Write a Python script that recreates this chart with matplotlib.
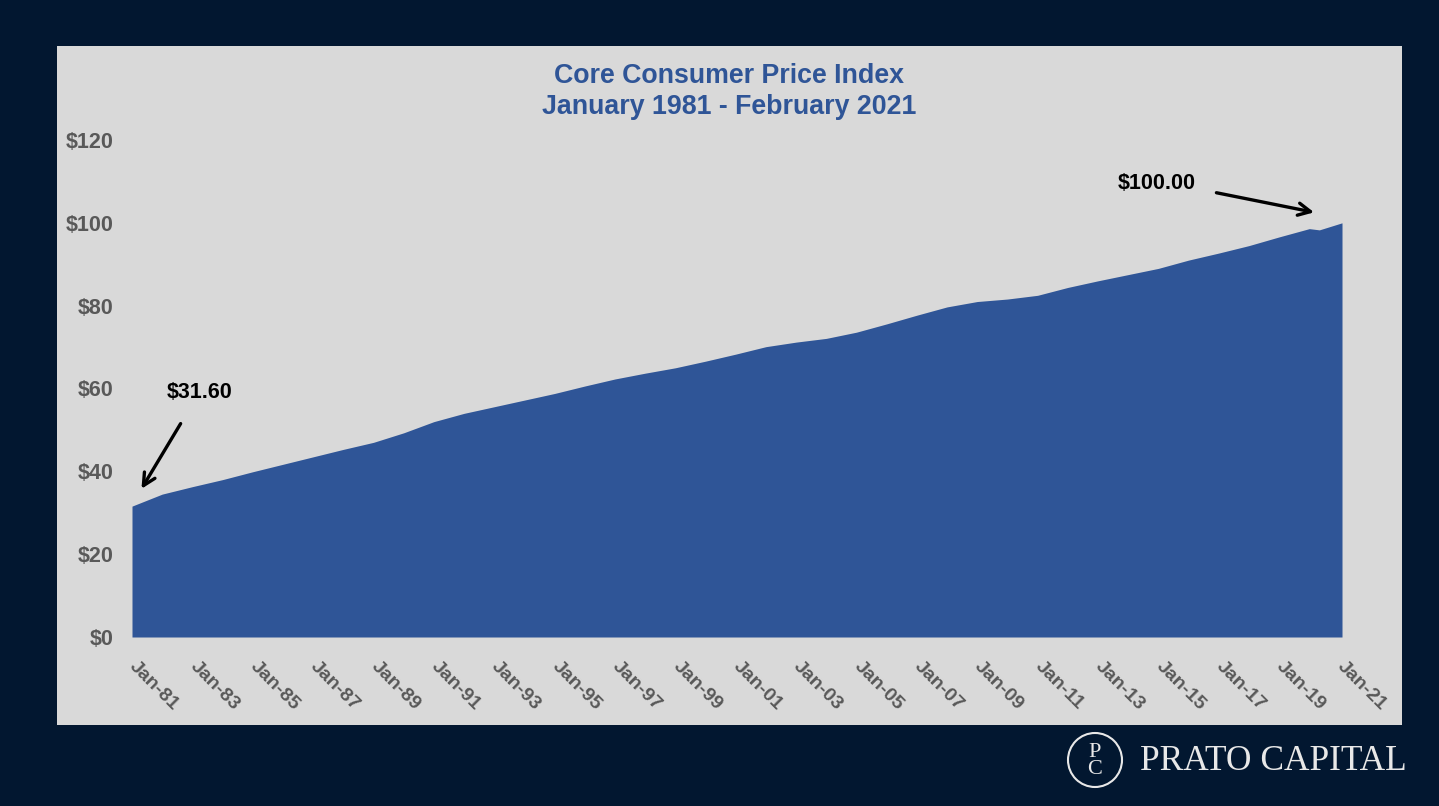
import matplotlib
matplotlib.use("Agg")
import matplotlib.pyplot as plt
import numpy as np
import pandas as pd
from matplotlib.patches import Rectangle, Ellipse

# values (index, Feb 2021 = 100)
dates = ['1981-01', '1982-01', '1983-01', '1984-01', '1985-01', '1986-01', '1987-01',
         '1988-01', '1989-01', '1990-01', '1991-01', '1992-01', '1993-01', '1994-01',
         '1995-01', '1996-01', '1997-01', '1998-01', '1999-01', '2000-01', '2001-01',
         '2002-01', '2003-01', '2004-01', '2005-01', '2006-01', '2007-01', '2008-01',
         '2009-01', '2010-01', '2011-01', '2012-01', '2013-01', '2014-01', '2015-01',
         '2016-01', '2017-01', '2018-01', '2019-01', '2020-01', '2020-05', '2021-02']
cpi = [31.6, 34.5, 36.3, 38.0, 39.9, 41.7, 43.5,
       45.3, 47.0, 49.3, 52.0, 54.0, 55.6, 57.2,
       58.8, 60.6, 62.3, 63.7, 65.0, 66.6, 68.3,
       70.1, 71.2, 72.1, 73.6, 75.6, 77.7, 79.7,
       81.0, 81.6, 82.5, 84.4, 86.0, 87.5, 89.0,
       91.0, 92.7, 94.5, 96.6, 98.6, 98.3, 100.0]
yticks = [0, 20, 40, 60, 80, 100, 120]
tick_labels = ['Jan-%02d' % (y % 100) for y in range(1981, 2022, 2)]

NAVY = '#021730'
PANEL = '#D9D9D9'
BLUE = '#2F5597'
GREY = '#595959'
LOGO = '#e8e8e8'

plt.rcParams['font.family'] = ['Liberation Sans', 'DejaVu Sans']

per = pd.PeriodIndex(dates, freq='M')
start = pd.Period('1981-01', freq='M')
x = np.array([(p - start).n for p in per])

W, H = 1439, 806
fig = plt.figure(figsize=(W / 100, H / 100), dpi=100, facecolor=NAVY)
fig.patches.append(Rectangle((57 / W, 81 / H), 1345 / W, 679 / H,
                             transform=fig.transFigure, facecolor=PANEL,
                             edgecolor='none', zorder=-5))

ax = fig.add_axes([132 / W, 169 / H, 1210 / W, 497 / H])
ax.set_facecolor('none')
ax.fill_between(x, 0, cpi, color=BLUE, linewidth=0)
ax.set_xlim(0, x[-1])
ax.set_ylim(0, 120)
for s in ax.spines.values():
    s.set_visible(False)

ax.set_yticks(yticks)
ax.set_yticklabels(['$%d' % v for v in yticks], fontsize=15.5, fontweight='bold', color=GREY)
ax.tick_params(axis='y', length=0, pad=13)

ax.set_xticks(np.arange(0, 481, 24))
ax.set_xticklabels(tick_labels, rotation=-45, ha='left', va='center',
                   rotation_mode='anchor', fontsize=14, fontweight='bold', color=GREY)
ax.tick_params(axis='x', length=0, pad=19)

# title
fig.text(729 / W, 1 - 76 / H, 'Core Consumer Price Index', ha='center', va='center',
         fontsize=19.3, fontweight='bold', color=BLUE)
fig.text(729 / W, 1 - 107 / H, 'January 1981 - February 2021', ha='center', va='center',
         fontsize=19.3, fontweight='bold', color=BLUE)

# annotations
ax.text(27, 59.1, '$31.60', ha='center', va='center', fontsize=15.5, fontweight='bold', color='black')
ax.annotate('', xy=(3.2, 35.2), xytext=(19.9, 52.1),
            arrowprops=dict(arrowstyle='->', color='black', lw=2.4, mutation_scale=22))
ax.text(407.5, 109.4, '$100.00', ha='center', va='center', fontsize=15.5, fontweight='bold', color='black')
ax.annotate('', xy=(471, 102.4), xytext=(430, 107.4),
            arrowprops=dict(arrowstyle='->', color='black', lw=2.4, mutation_scale=22))

# logo
r = 27
fig.patches.append(Ellipse((1095 / W, 1 - 760 / H), 2 * r / W, 2 * r / H, transform=fig.transFigure,
                           facecolor='none', edgecolor=LOGO, lw=1.5, zorder=5))
fig.text(1095 / W, 1 - 761 / H, 'P\nC', ha='center', va='center', fontsize=16,
         linespacing=0.8, family='Liberation Serif', color=LOGO)
fig.text(1140 / W, 1 - 762 / H, 'PRATO CAPITAL', ha='left', va='center', fontsize=25.5,
         family='Liberation Serif', color=LOGO)

fig.savefig('out.png', dpi=100, facecolor=NAVY)
